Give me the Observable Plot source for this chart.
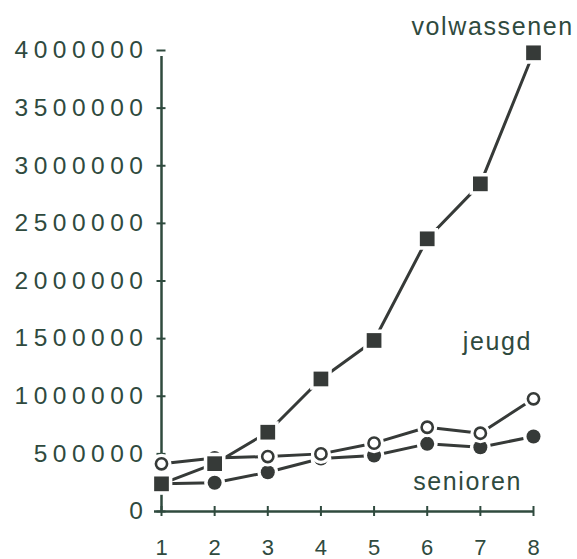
<!DOCTYPE html>
<html>
<head>
<meta charset="utf-8">
<script src="https://cdn.jsdelivr.net/npm/d3@7"></script>
<script src="https://cdn.jsdelivr.net/npm/@observablehq/plot@0.6"></script>
<style>
  html, body { margin: 0; padding: 0; background: #fff; }
  #chart { width: 577px; height: 559px; }
  #chart g[aria-label="y-axis tick label"] text { letter-spacing: 5.5px; }
  #chart g[aria-label="text"] text { letter-spacing: 1.6px; }
</style>
</head>
<body>
<div id="chart"></div>
<script>
const periods = [1, 2, 3, 4, 5, 6, 7, 8];
const volwassenen = [240000, 415000, 688000, 1150000, 1484000, 2366000, 2843000, 3980000];
const jeugd = [414000, 465000, 477000, 500000, 593000, 731000, 679000, 978000];
const senioren = [240000, 249000, 341000, 460000, 486000, 587000, 558000, 651000];
const yTicks = [0, 500000, 1000000, 1500000, 2000000, 2500000, 3000000, 3500000, 4000000];
const seriesNames = ["volwassenen", "jeugd", "senioren"];

const rows = (name, vals) => periods.map((p, i) => ({period: p, value: vals[i], series: name}));
const dataV = rows("volwassenen", volwassenen);
const dataJ = rows("jeugd", jeugd);
const dataS = rows("senioren", senioren);

// label anchor positions (in data units)
const labelPos = {
  volwassenen: {x: 7.23, y: 4200000},
  jeugd: {x: 7.32, y: 1470000},
  senioren: {x: 6.76, y: 255000}
};
const labels = seriesNames.map(n => ({name: n, ...labelPos[n]}));

const ink = "#363a38";
const axisInk = "#2f4a3e";
const font = "'Liberation Sans', Arial, sans-serif";

const chart = Plot.plot({
  width: 577,
  height: 559,
  marginLeft: 161,
  marginRight: 44,
  marginTop: 50,
  marginBottom: 48,
  style: {fontFamily: font, background: "#fff", color: axisInk},
  x: {domain: [1, 8], type: "linear"},
  y: {domain: [0, 4000000]},
  marks: [
    // axis lines
    Plot.ruleX([1], {y1: 0, y2: 4000000, stroke: axisInk, strokeWidth: 2.5, insetBottom: -6}),
    Plot.ruleY([0], {x1: 1, x2: 8, stroke: axisInk, strokeWidth: 2.5, insetLeft: -7}),
    // y ticks (crossing)
    Plot.axisY({ticks: yTicks, tickSize: 9, dx: 4.5, text: null, stroke: axisInk, strokeWidth: 2}),
    Plot.axisY({ticks: yTicks, tickSize: 0, tickPadding: 13, tickFormat: d => String(d),
      fontSize: 24.5, fill: axisInk, label: null}),
    // x ticks (crossing)
    Plot.axisX({ticks: periods, tickSize: 10, dy: -5, text: null, stroke: axisInk, strokeWidth: 2}),
    Plot.axisX({ticks: periods, tickSize: 0, tickPadding: 28, tickFormat: d => String(d),
      fontSize: 22, fill: axisInk, label: null}),
    // lines
    Plot.line(dataS, {x: "period", y: "value", stroke: ink, strokeWidth: 3}),
    Plot.line(dataJ, {x: "period", y: "value", stroke: ink, strokeWidth: 3}),
    Plot.line(dataV, {x: "period", y: "value", stroke: ink, strokeWidth: 3}),
    // senioren markers with halo
    Plot.dot(dataS, {x: "period", y: "value", r: 7, fill: "#fff", stroke: "#fff", strokeWidth: 7}),
    Plot.dot(dataS, {x: "period", y: "value", r: 7, fill: ink, stroke: "none"}),
    // jeugd markers with halo
    Plot.dot(dataJ, {x: "period", y: "value", r: 6.5, fill: "#fff", stroke: "#fff", strokeWidth: 7}),
    Plot.dot(dataJ, {x: "period", y: "value", r: 5.6, fill: "#fff", stroke: ink, strokeWidth: 2.6}),
    // volwassenen markers with halo
    Plot.dot(dataV, {x: "period", y: "value", r: 8.3, symbol: "square", fill: "#fff", stroke: "#fff", strokeWidth: 7}),
    Plot.dot(dataV, {x: "period", y: "value", r: 8.3, symbol: "square", fill: ink, stroke: "none"}),
    // series labels
    Plot.text(labels, {x: "x", y: "y", text: "name", fontSize: 25, fill: axisInk, textAnchor: "middle"})
  ]
});

document.getElementById("chart").appendChild(chart);
</script>
</body>
</html>
